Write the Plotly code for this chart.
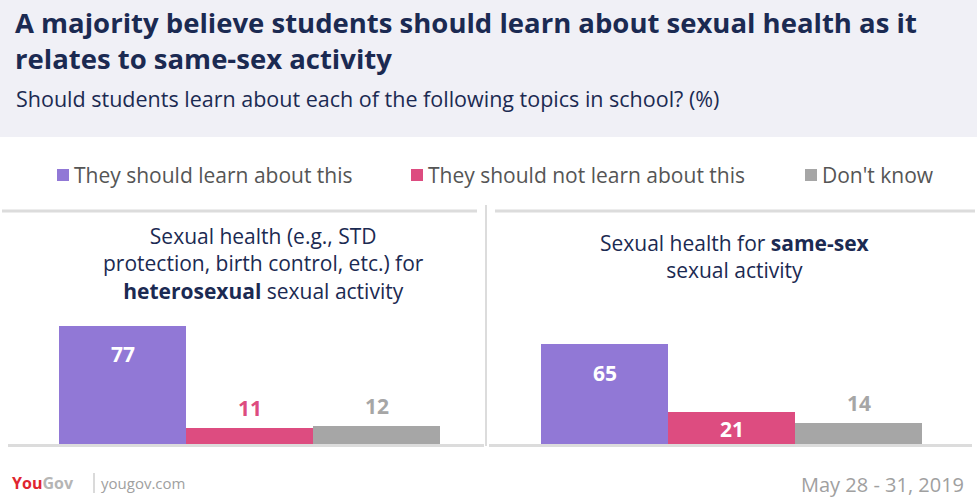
import plotly.graph_objects as go

# ---- data ----
series_names = ["They should learn about this", "They should not learn about this", "Don't know"]
series_colors = ["#9178d6", "#dd4c80", "#a6a6a6"]
panel_titles = [
    "Sexual health (e.g., STD<br>protection, birth control, etc.) for<br><b>heterosexual</b> sexual activity",
    "Sexual health for <b>same-sex</b><br>sexual activity",
]
hetero_values = [77, 11, 12]
samesex_values = [65, 21, 14]
panels = [hetero_values, samesex_values]

title = "<b>A majority believe students should learn about sexual health as it<br>relates to same-sex activity</b>"
subtitle = "Should students learn about each of the following topics in school? (%)"
date_text = "May 28 - 31, 2019"

W, H = 977, 497
FONT = "'Open Sans', sans-serif"
NAVY = "#1b2a52"

def px(x):
    return x / W

def py(y):
    return (H - y) / H

fig = go.Figure()

x_domains = [(59, 440), (541, 922)]
base_y = 444
top_y = 289.5  # y=100

shapes = []
annotations = []

for i, vals in enumerate(panels):
    xa = "x" if i == 0 else "x2"
    ya = "y" if i == 0 else "y2"
    fig.add_trace(go.Bar(
        x=[0, 1, 2], y=vals,
        marker=dict(color=series_colors, line=dict(width=0)),
        width=1.0,
        xaxis=xa, yaxis=ya, showlegend=False, hoverinfo="skip",
    ))
    for j, v in enumerate(vals):
        if v > 40:
            col, shift = "white", -29
        elif v > 18:
            col, shift = "white", -17
        else:
            col, shift = series_colors[j], 19
        annotations.append(dict(
            x=j, y=v, xref=xa, yref=ya, text=f"<b>{v}</b>", showarrow=False,
            yshift=shift, font=dict(family=FONT, size=21, color=col),
        ))

layout_axes = {}
for i, (x0, x1) in enumerate(x_domains):
    sfx = "" if i == 0 else "2"
    layout_axes[f"xaxis{sfx}"] = dict(domain=[px(x0), px(x1)], range=[-0.5, 2.5],
                                      visible=False, fixedrange=True)
    layout_axes[f"yaxis{sfx}"] = dict(domain=[py(base_y), py(top_y)], range=[0, 100],
                                      visible=False, fixedrange=True)

# header band
shapes.append(dict(type="rect", xref="paper", yref="paper", x0=0, x1=1,
                   y0=py(137), y1=1, fillcolor="#f0f0f6", line=dict(width=0), layer="below"))
# panel separator lines
shapes.append(dict(type="line", xref="paper", yref="paper", x0=px(2), x1=px(477),
                   y0=py(211), y1=py(211), line=dict(color="#dcdcdc", width=3)))
shapes.append(dict(type="line", xref="paper", yref="paper", x0=px(495), x1=px(975),
                   y0=py(211), y1=py(211), line=dict(color="#dcdcdc", width=3)))
shapes.append(dict(type="line", xref="paper", yref="paper", x0=px(486), x1=px(486),
                   y0=py(205), y1=py(446), line=dict(color="#dcdcdc", width=2)))
# baselines
shapes.append(dict(type="line", xref="paper", yref="paper", x0=px(8), x1=px(484),
                   y0=py(445.5), y1=py(445.5), line=dict(color="#dcdcdc", width=3)))
shapes.append(dict(type="line", xref="paper", yref="paper", x0=px(489), x1=px(972),
                   y0=py(445.5), y1=py(445.5), line=dict(color="#dcdcdc", width=3)))

# title & subtitle
annotations.append(dict(xref="paper", yref="paper", x=px(13), y=py(41), xanchor="left",
                        yanchor="middle", align="left", showarrow=False, text=title,
                        font=dict(family=FONT, size=27.5, color=NAVY)))
annotations.append(dict(xref="paper", yref="paper", x=px(14), y=py(99), xanchor="left",
                        yanchor="middle", align="left", showarrow=False, text=subtitle,
                        font=dict(family=FONT, size=21.5, color=NAVY)))

# legend
legend_x = [57, 411, 805]
for name, col, lx in zip(series_names, series_colors, legend_x):
    shapes.append(dict(type="rect", xref="paper", yref="paper", x0=px(lx), x1=px(lx + 12),
                       y0=py(181), y1=py(169), fillcolor=col, line=dict(width=0)))
    annotations.append(dict(xref="paper", yref="paper", x=px(lx + 15), y=py(175),
                            xanchor="left", yanchor="middle", showarrow=False, text=name,
                            font=dict(family=FONT, size=21, color="#555555")))

# panel titles
panel_title_pos = [(263, 264), (735, 256)]
for t, (cx, cy) in zip(panel_titles, panel_title_pos):
    annotations.append(dict(xref="paper", yref="paper", x=px(cx), y=py(cy), xanchor="center",
                            yanchor="middle", align="center", showarrow=False, text=t,
                            font=dict(family=FONT, size=21, color=NAVY)))

# footer
annotations.append(dict(xref="paper", yref="paper", x=px(10), y=py(483), xanchor="left",
                        yanchor="middle", showarrow=False,
                        text="<b><span style='color:#e0252f'>You</span><span style='color:#b5b5b5'>Gov</span></b>",
                        font=dict(family=FONT, size=16, color="#e0252f")))
shapes.append(dict(type="line", xref="paper", yref="paper", x0=px(94), x1=px(94),
                   y0=py(473), y1=py(493), line=dict(color="#b5b5b5", width=1)))
annotations.append(dict(xref="paper", yref="paper", x=px(99), y=py(483), xanchor="left",
                        yanchor="middle", showarrow=False, text="yougov.com",
                        font=dict(family=FONT, size=15, color="#a0a0a0")))
annotations.append(dict(xref="paper", yref="paper", x=px(966), y=py(484), xanchor="right",
                        yanchor="middle", showarrow=False, text=date_text,
                        font=dict(family=FONT, size=20, color="#a0a0a0")))

fig.update_layout(
    width=W, height=H,
    margin=dict(l=0, r=0, t=0, b=0),
    paper_bgcolor="white", plot_bgcolor="rgba(0,0,0,0)",
    bargap=0, showlegend=False,
    shapes=shapes, annotations=annotations,
    **layout_axes,
)

fig.write_html("out.html", config={"displayModeBar": False},
               post_script="document.body.style.margin='0';")
